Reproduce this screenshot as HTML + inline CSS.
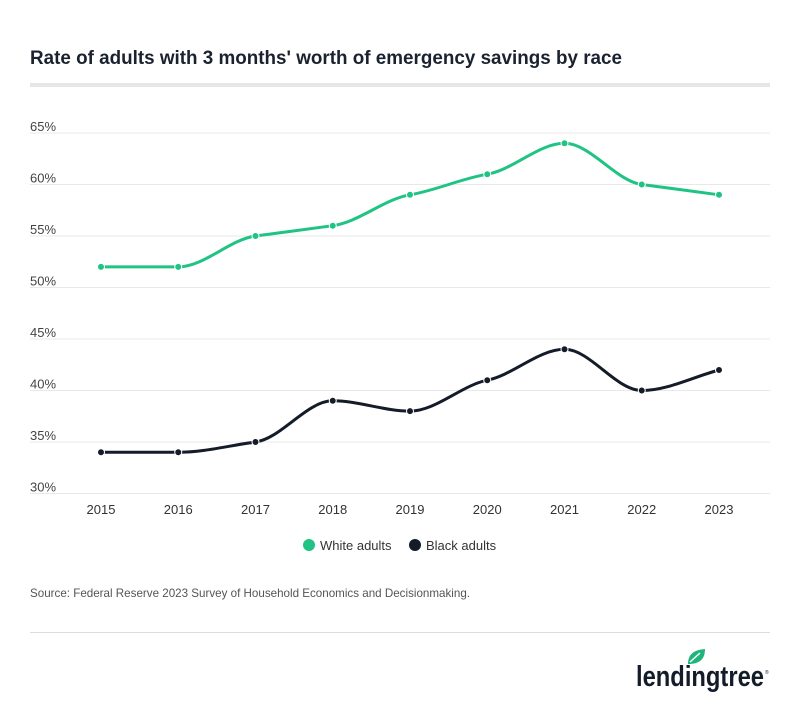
<!DOCTYPE html>
<html><head><meta charset="utf-8"><style>
body{margin:0;background:#fff;}
svg text{font-family:"Liberation Sans",sans-serif;}
</style></head><body>
<svg width="800" height="704" xmlns="http://www.w3.org/2000/svg">
<rect width="800" height="704" fill="#fff"/>
<text x="30" y="64" font-size="19" font-weight="bold" fill="#1a2230" textLength="592" lengthAdjust="spacingAndGlyphs">Rate of adults with 3 months' worth of emergency savings by race</text>
<rect x="30" y="83" width="740" height="4" fill="#e6e6e6"/>
<g stroke="#e8e8e8" stroke-width="1">
<line x1="30" x2="770" y1="133" y2="133"/><line x1="30" x2="770" y1="184.5" y2="184.5"/>
<line x1="30" x2="770" y1="236" y2="236"/><line x1="30" x2="770" y1="287.5" y2="287.5"/>
<line x1="30" x2="770" y1="339" y2="339"/><line x1="30" x2="770" y1="390.5" y2="390.5"/>
<line x1="30" x2="770" y1="442" y2="442"/><line x1="30" x2="770" y1="493.5" y2="493.5"/>
</g>
<g font-size="13" fill="#444">
<text x="30" y="131">65%</text><text x="30" y="182.5">60%</text><text x="30" y="234">55%</text>
<text x="30" y="285.5">50%</text><text x="30" y="337">45%</text><text x="30" y="388.5">40%</text>
<text x="30" y="440">35%</text><text x="30" y="491.5">30%</text>
</g>
<g font-size="13" fill="#333" text-anchor="middle">
<text x="101" y="514">2015</text><text x="178.25" y="514">2016</text><text x="255.5" y="514">2017</text>
<text x="332.75" y="514">2018</text><text x="410" y="514">2019</text><text x="487.25" y="514">2020</text>
<text x="564.5" y="514">2021</text><text x="641.75" y="514">2022</text><text x="719" y="514">2023</text>
</g>
<path fill="none" stroke="#1fc384" stroke-width="3" d="M101,266.9 C126.75,266.9 152.5,266.9 178.25,266.9 C204,266.9 229.75,239.43 255.5,236 C281.25,232.57 307,229.13 332.75,225.7 C358.5,222.27 384.25,199.09 410,194.8 C435.75,190.51 461.5,178.49 487.25,174.2 C513,169.91 538.75,143.3 564.5,143.3 C590.25,143.3 616,181.07 641.75,184.5 C667.5,187.93 693.25,191.37 719,194.8"/>
<path fill="none" stroke="#141c2a" stroke-width="3" d="M101,452.3 C126.75,452.3 152.5,452.3 178.25,452.3 C204,452.3 229.75,445.43 255.5,442 C281.25,438.57 307,400.8 332.75,400.8 C358.5,400.8 384.25,411.1 410,411.1 C435.75,411.1 461.5,385.35 487.25,380.2 C513,375.05 538.75,349.3 564.5,349.3 C590.25,349.3 616,390.5 641.75,390.5 C667.5,390.5 693.25,376.87 719,370"/>
<g fill="#1fc384" stroke="#fff" stroke-width="1">
<circle cx="101" cy="266.9" r="3.5"/><circle cx="178.25" cy="266.9" r="3.5"/><circle cx="255.5" cy="236" r="3.5"/>
<circle cx="332.75" cy="225.7" r="3.5"/><circle cx="410" cy="194.8" r="3.5"/><circle cx="487.25" cy="174.2" r="3.5"/>
<circle cx="564.5" cy="143.3" r="3.5"/><circle cx="641.75" cy="184.5" r="3.5"/><circle cx="719" cy="194.8" r="3.5"/>
</g>
<g fill="#141c2a" stroke="#fff" stroke-width="1">
<circle cx="101" cy="452.3" r="3.5"/><circle cx="178.25" cy="452.3" r="3.5"/><circle cx="255.5" cy="442" r="3.5"/>
<circle cx="332.75" cy="400.8" r="3.5"/><circle cx="410" cy="411.1" r="3.5"/><circle cx="487.25" cy="380.2" r="3.5"/>
<circle cx="564.5" cy="349.3" r="3.5"/><circle cx="641.75" cy="390.5" r="3.5"/><circle cx="719" cy="370" r="3.5"/>
</g>
<circle cx="309" cy="545" r="6" fill="#1fc384"/>
<text x="320" y="550" font-size="13" fill="#333">White adults</text>
<circle cx="415" cy="545" r="6" fill="#141c2a"/>
<text x="426" y="550" font-size="13" fill="#333">Black adults</text>
<text x="30" y="597" font-size="12" fill="#555" textLength="440" lengthAdjust="spacingAndGlyphs">Source: Federal Reserve 2023 Survey of Household Economics and Decisionmaking.</text>
<rect x="30" y="632" width="740" height="1" fill="#dcdcdc"/>
<path d="M688,664 C688,654 694,650 705,649 C705,659 700,664 688,664 Z" fill="#1fb57a"/>
<path d="M690,662 L700,653" stroke="#fff" stroke-width="1.5"/>
<text x="636" y="686" font-size="29" font-weight="bold" fill="#141c2a" textLength="128" lengthAdjust="spacingAndGlyphs">lendingtree</text>
<text x="765" y="674" font-size="5" fill="#141c2a">®</text>
</svg>
</body></html>
